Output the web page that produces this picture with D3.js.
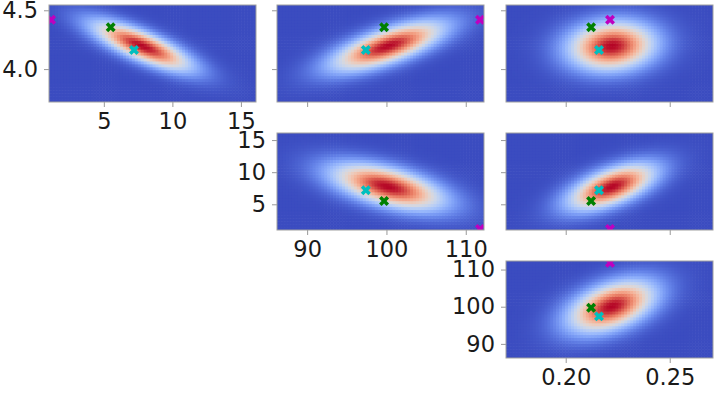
<!DOCTYPE html>
<html>
<head>
<meta charset="utf-8">
<script src="https://cdn.jsdelivr.net/npm/d3@7"></script>
<style>
  body { margin: 0; background: #fff; }
  text { font-family: "DejaVu Sans", sans-serif; }
</style>
</head>
<body>
<div id="chart"></div>
<script>
// axis ranges and ticks for the four parameters
var domains = [[3.72, 4.545], [1.0, 16.1], [86.2, 112.3], [0.1713, 0.2708]];
var ticks = [[4.0, 4.5], [5, 10, 15], [90, 100, 110], [0.20, 0.25]];
var tickFormats = [".1f", "d", "d", ".2f"];

// gaussian shape of the density in each panel
var means = [4.2, 7.8, 100.2, 0.2222];
var sds = [0.14, 2.4, 4.7, 0.014];
var corr = {"0,1": -0.78, "0,2": 0.7, "0,3": 0.1, "1,2": -0.55, "1,3": 0.6, "2,3": 0.45};

// the three marked points
var markerValues = [
  [4.355, 5.5, 99.7, 0.2122],
  [4.162, 7.2, 97.4, 0.216],
  [4.42, 1.15, 111.8, 0.2213]
];
var markerColors = ["#008000", "#00bfbf", "#bf00bf"];

// coolwarm colormap stops
var coolwarm = ["#3b4cc0", "#6282ea", "#8db0fe", "#b8d0f9", "#dddddd",
                "#f5c4ac", "#f4987a", "#de604d", "#b40426"];

var width = 717, height = 393;
var colX = [49, 277, 506], rowY = [5, 133, 261];
var pw = 207, ph = 97;
var nx = 70, ny = 33;
var fontSize = 22.5;

var color = d3.scaleSequential(d3.interpolateRgbBasis(coolwarm)).domain([0, 1]);

var svg = d3.select("#chart").append("svg")
    .attr("width", width)
    .attr("height", height);

var panels = [];
for (var r = 0; r < 3; r++) {
  for (var c = r; c < 3; c++) {
    panels.push({row: r, col: c, yv: r, xv: c + 1});
  }
}

panels.forEach(function (p, i) {
  var x = d3.scaleLinear().domain(domains[p.xv]).range([0, pw]);
  var y = d3.scaleLinear().domain(domains[p.yv]).range([ph, 0]);
  var rho = corr[p.yv + "," + p.xv];

  var g = svg.append("g")
      .attr("transform", "translate(" + colX[p.col] + "," + rowY[p.row] + ")");

  g.append("clipPath").attr("id", "clip" + i)
    .append("rect").attr("width", pw).attr("height", ph);

  // density cells
  var dx = (domains[p.xv][1] - domains[p.xv][0]) / nx;
  var dy = (domains[p.yv][1] - domains[p.yv][0]) / ny;
  var cells = [];
  for (var a = 0; a < nx; a++) {
    for (var b = 0; b < ny; b++) {
      var xv = domains[p.xv][0] + a * dx, yv = domains[p.yv][0] + b * dy;
      var zx = (xv + dx / 2 - means[p.xv]) / sds[p.xv];
      var zy = (yv + dy / 2 - means[p.yv]) / sds[p.yv];
      var q = (zx * zx - 2 * rho * zx * zy + zy * zy) / (1 - rho * rho);
      cells.push({x0: xv, x1: xv + dx, y0: yv, y1: yv + dy, v: Math.exp(-q / 2)});
    }
  }

  g.append("g").attr("clip-path", "url(#clip" + i + ")")
    .selectAll("rect").data(cells).enter().append("rect")
      .attr("x", function (d) { return x(d.x0); })
      .attr("y", function (d) { return y(d.y1); })
      .attr("width", function (d) { return x(d.x1) - x(d.x0) + 0.6; })
      .attr("height", function (d) { return y(d.y0) - y(d.y1) + 0.6; })
      .attr("fill", function (d) { return color(d.v); });

  // markers
  g.append("g").attr("clip-path", "url(#clip" + i + ")")
    .selectAll("path").data(markerValues).enter().append("path")
      .attr("d", d3.symbol(d3.symbolCross, 62))
      .attr("transform", function (d) {
        return "translate(" + x(d[p.xv]) + "," + y(d[p.yv]) + ") rotate(45)";
      })
      .attr("fill", function (d, k) { return markerColors[k]; });

  // axes: labels only on the left of each row and the bottom of each column
  var showLabels = p.col === p.row;
  var yAxis = d3.axisLeft(y).tickValues(ticks[p.yv]).tickSize(5).tickPadding(6)
      .tickFormat(showLabels ? d3.format(tickFormats[p.yv]) : "");
  var xAxis = d3.axisBottom(x).tickValues(ticks[p.xv]).tickSize(5).tickPadding(6)
      .tickFormat(showLabels ? d3.format(tickFormats[p.xv]) : "");

  var ya = g.append("g").attr("class", "y axis").call(yAxis);
  var xa = g.append("g").attr("class", "x axis")
      .attr("transform", "translate(0," + ph + ")").call(xAxis);

  [ya, xa].forEach(function (ax) {
    ax.attr("font-size", null).attr("font-family", null);
    ax.select(".domain").remove();
    ax.selectAll("line").attr("stroke", "#999");
    ax.selectAll("text").attr("fill", "#1a1a1a").style("font-size", fontSize + "px");
  });

  g.append("rect")
    .attr("width", pw).attr("height", ph)
    .attr("fill", "none").attr("stroke", "#a0a0a0").attr("stroke-width", 1);
});
</script>
</body>
</html>
